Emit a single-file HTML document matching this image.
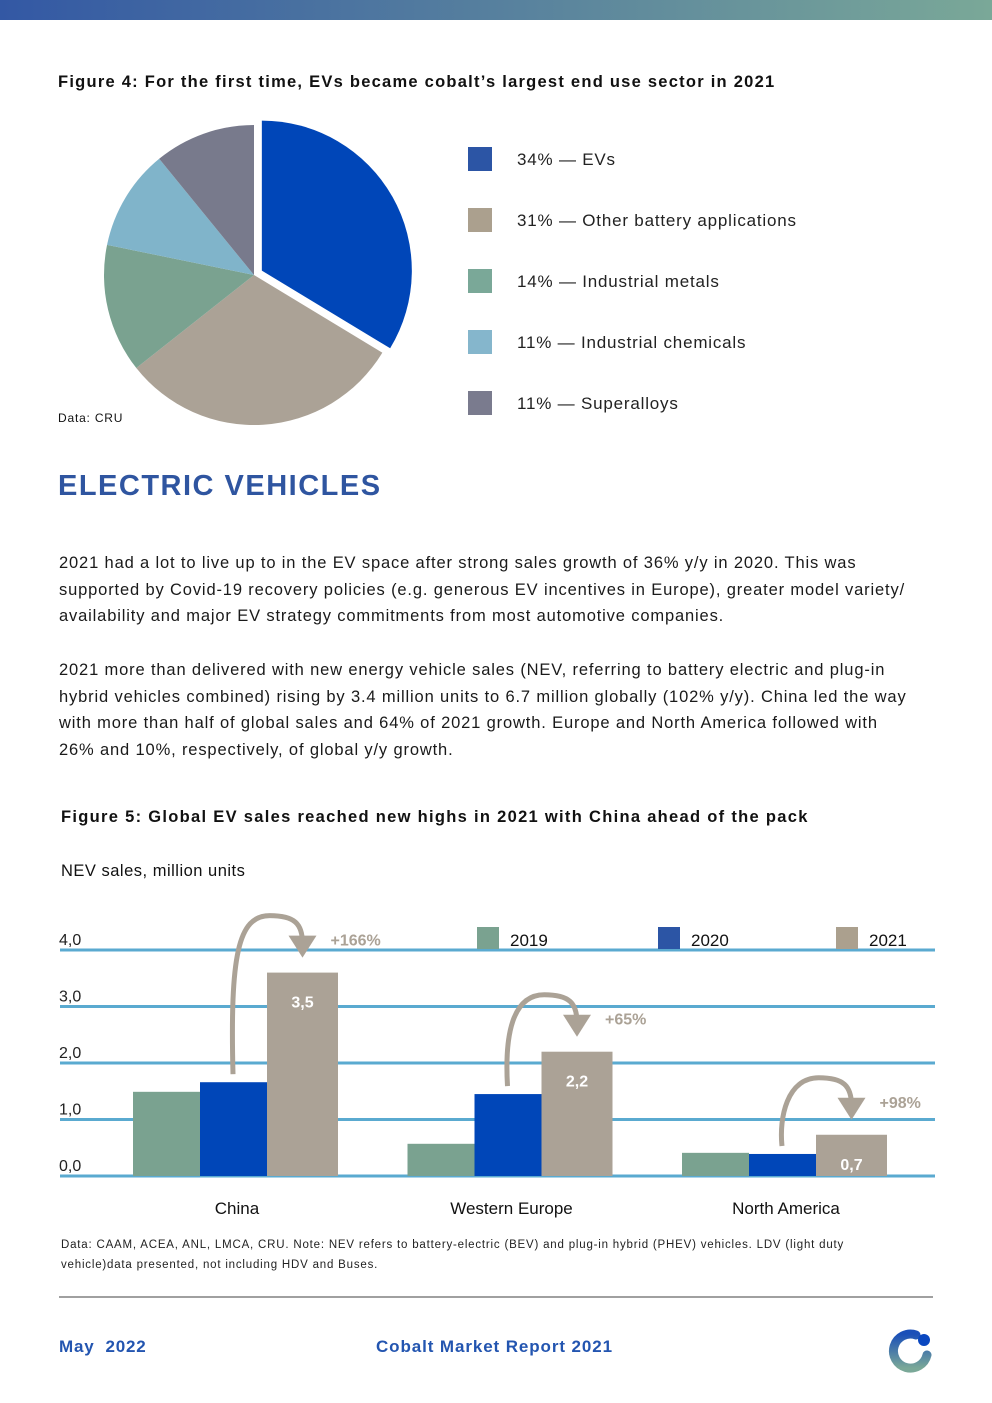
<!DOCTYPE html>
<html><head><meta charset="utf-8"><style>
body{margin:0;width:992px;height:1403px;background:#fff;font-family:"Liberation Sans",sans-serif;position:relative;overflow:hidden;color:#111}
.abs{position:absolute}
.p{position:absolute;left:59px;width:853px;font-size:16.5px;line-height:26.7px;color:#1a1a1a;letter-spacing:0.85px}
.leg{position:absolute;left:468px;font-size:17px;color:#222;letter-spacing:0.8px}
.leg span{position:absolute;left:0;top:-3px;width:24px;height:24px}
.leg b{font-weight:normal;position:absolute;left:49px;top:0;white-space:nowrap}
</style></head><body>
<div class="abs" style="left:0;top:0;width:992px;height:20px;background:linear-gradient(90deg,#3358a4,#7aa898)"></div>
<div class="abs" style="left:58px;top:73px;font-size:16.5px;font-weight:bold;letter-spacing:1.25px;white-space:nowrap">Figure 4: For the first time, EVs became cobalt’s largest end use sector in 2021</div>
<svg class="abs" style="left:0;top:0" width="440" height="440" id="pie"></svg>
<div class="abs" style="left:58px;top:411px;font-size:12px;letter-spacing:0.8px">Data: CRU</div>
<div id="legend"></div>
<div class="abs" style="left:58px;top:470px;font-size:29px;font-weight:bold;color:#2f55a0;letter-spacing:1.5px">ELECTRIC VEHICLES</div>
<div class="p" style="top:550px">2021 had a lot to live up to in the EV space after strong sales growth of 36% y/y in 2020. This was supported by Covid-19 recovery policies (e.g. generous EV incentives in Europe), greater model variety/ availability and major EV strategy commitments from most automotive companies.</div>
<div class="p" style="top:657px">2021 more than delivered with new energy vehicle sales (NEV, referring to battery electric and plug-in hybrid vehicles combined) rising by 3.4 million units to 6.7 million globally (102% y/y). China led the way with more than half of global sales and 64% of 2021 growth. Europe and North America followed with 26% and 10%, respectively, of global y/y growth.</div>
<div class="abs" style="left:61px;top:808px;font-size:16.5px;font-weight:bold;letter-spacing:1.3px;white-space:nowrap">Figure 5: Global EV sales reached new highs in 2021 with China ahead of the pack</div>
<div class="abs" style="left:61px;top:862px;font-size:16.5px;letter-spacing:0.5px">NEV sales, million units</div>
<svg class="abs" style="left:0;top:0" width="992" height="1403" id="bars"></svg>
<div class="abs" style="left:61px;top:1235px;width:840px;font-size:11.5px;line-height:20px;color:#222;letter-spacing:0.8px">Data: CAAM, ACEA, ANL, LMCA, CRU. Note: NEV refers to battery-electric (BEV) and plug-in hybrid (PHEV) vehicles. LDV (light duty vehicle)data presented, not including HDV and Buses.</div>
<div class="abs" style="left:59px;top:1296px;width:874px;height:2px;background:#a0a0a0"></div>
<div class="abs" style="left:59px;top:1337px;font-size:17px;font-weight:bold;color:#2355b0;letter-spacing:0.8px">May&nbsp; 2022</div>
<div class="abs" style="left:376px;top:1337px;font-size:17px;font-weight:bold;color:#2355b0;letter-spacing:0.9px">Cobalt Market Report 2021</div>
<svg class="abs" style="left:880px;top:1322px" width="60" height="60">
<defs><linearGradient id="lg" x1="0" y1="0" x2="0" y2="1"><stop offset="0" stop-color="#1a4fb8"/><stop offset="1" stop-color="#7aa898"/></linearGradient></defs>
<path d="M36 13 A17 17 0 1 0 47 33" fill="none" stroke="url(#lg)" stroke-width="9" stroke-linecap="round"/>
<circle cx="44" cy="18" r="6" fill="#0a47c0"/></svg>
<script>
// Pie data
const pieLabels=["EVs","Other battery applications","Industrial metals","Industrial chemicals","Superalloys"];
const pieValues=[34,31,14,11,11];
const pieColors=["#0046b8","#aba296","#7aa290","#80b4ca","#787a8c"];
const legendColors=["#2c55a5","#aba08e","#7aa898","#85b6cc","#7a7b8e"];
const NS="http://www.w3.org/2000/svg";
const pie=document.getElementById('pie');
const cx=254,cy=275,R=150;
const tot=pieValues.reduce((a,b)=>a+b,0);
let a0=0;
pieValues.forEach((v,i)=>{
  const a1=a0+v/tot*2*Math.PI;
  const mid=(a0+a1)/2;
  const off=i===0?9:0;
  const ox=cx+off*Math.sin(mid),oy=cy-off*Math.cos(mid);
  const x0=ox+R*Math.sin(a0),y0=oy-R*Math.cos(a0),x1=ox+R*Math.sin(a1),y1=oy-R*Math.cos(a1);
  const p=document.createElementNS(NS,'path');
  p.setAttribute('d',`M${ox},${oy} L${x0},${y0} A${R},${R} 0 ${a1-a0>Math.PI?1:0} 1 ${x1},${y1} Z`);
  p.setAttribute('fill',pieColors[i]);
  
  
  pie.appendChild(p);
  a0=a1;
});
const leg=document.getElementById('legend');
pieLabels.forEach((l,i)=>{
  const d=document.createElement('div');
  d.className='leg';d.style.top=(150+i*61)+'px';
  
  
  d.innerHTML=`<span style="background:${legendColors[i]}"></span><b>${pieValues[i]}% — ${l}</b>`;
  leg.appendChild(d);
});

// Bar data
const categories=["China","Western Europe","North America"];
const series2019=[1.49,0.57,0.41];
const series2020=[1.66,1.45,0.39];
const series2021=[3.6,2.2,0.73];
const valueLabels2021=["3,5","2,2","0,7"];
const growthLabels=["+166%","+65%","+98%"];
const yTicks=[0,1,2,3,4];
const yTickLabels=["0,0","1,0","2,0","3,0","4,0"];
const seriesNames=["2019","2020","2021"];
const svg=document.getElementById('bars');
const y0px=1176,unit=56.5;
const yS=v=>y0px-v*unit;
const gx=i=>237+i*274.5;
function el(tag,attrs,txt){const e=document.createElementNS(NS,tag);for(const k in attrs)e.setAttribute(k,attrs[k]);if(txt!==undefined)e.textContent=txt;svg.appendChild(e);return e;}
yTicks.forEach((t,i)=>{
  const l=el('line',{x1:60,x2:935,y1:yS(t),y2:yS(t),stroke:'#5aaad0','stroke-width':3});
  
  
  const tx=el('text',{x:59,y:yS(t)-5,'font-size':16,fill:'#222'},yTickLabels[i]);
  
  
});
const lc=["#7aa290","#2c55a5","#aba08e"],lx=[477,658,836];
seriesNames.forEach((s,i)=>{
  const r=el('rect',{x:lx[i],y:927,width:22,height:22,fill:lc[i]});
  
  
  const t=el('text',{x:lx[i]+33,y:946,'font-size':17,fill:'#111'},s);
  
  
});
const barCols=["#7aa290","#0046b8","#aba296"];
categories.forEach((c,i)=>{
  const x=gx(i);
  const vals=[series2019[i],series2020[i],series2021[i]];
  const xs=[x-104,x-37,x+30],ws=[67,67,71];
  vals.forEach((v,j)=>{
    const r=el('rect',{x:xs[j],y:yS(v),width:ws[j],height:v*unit,fill:barCols[j]});
    
    
  });
  const vl=el('text',{x:xs[2]+ws[2]/2,y:yS(series2021[i])+35,'font-size':16,'font-weight':'bold',fill:'#fff','text-anchor':'middle'},valueLabels2021[i]);
  
  
  const cl=el('text',{x:x,y:1214,'font-size':17,fill:'#111','text-anchor':'middle'},c);
  
  
  // growth arrow
  const sx=xs[1]+33,sy=yS(series2020[i])-8;
  const ex=xs[2]+ws[2]/2,tip=yS(series2021[i])-15;
  const top=tip-42;
  const px=(sx+ex)/2+2;
  const p=el('path',{d:`M${sx},${sy} C${sx-3},${top+40} ${sx+5},${top} ${px},${top} C${ex-8},${top} ${ex},${top+8} ${ex},${tip-14}`,fill:'none',stroke:'#aba296','stroke-width':5});
  
  
  const h=el('path',{d:`M${ex-14},${tip-22} L${ex+14},${tip-22} L${ex},${tip} Z`,fill:'#aba296'});
  
  
  const g=el('text',{x:ex+28,y:top+30,'font-size':16,'font-weight':'bold',fill:'#aba296'},growthLabels[i]);
  
  
});
</script>
</body></html>
